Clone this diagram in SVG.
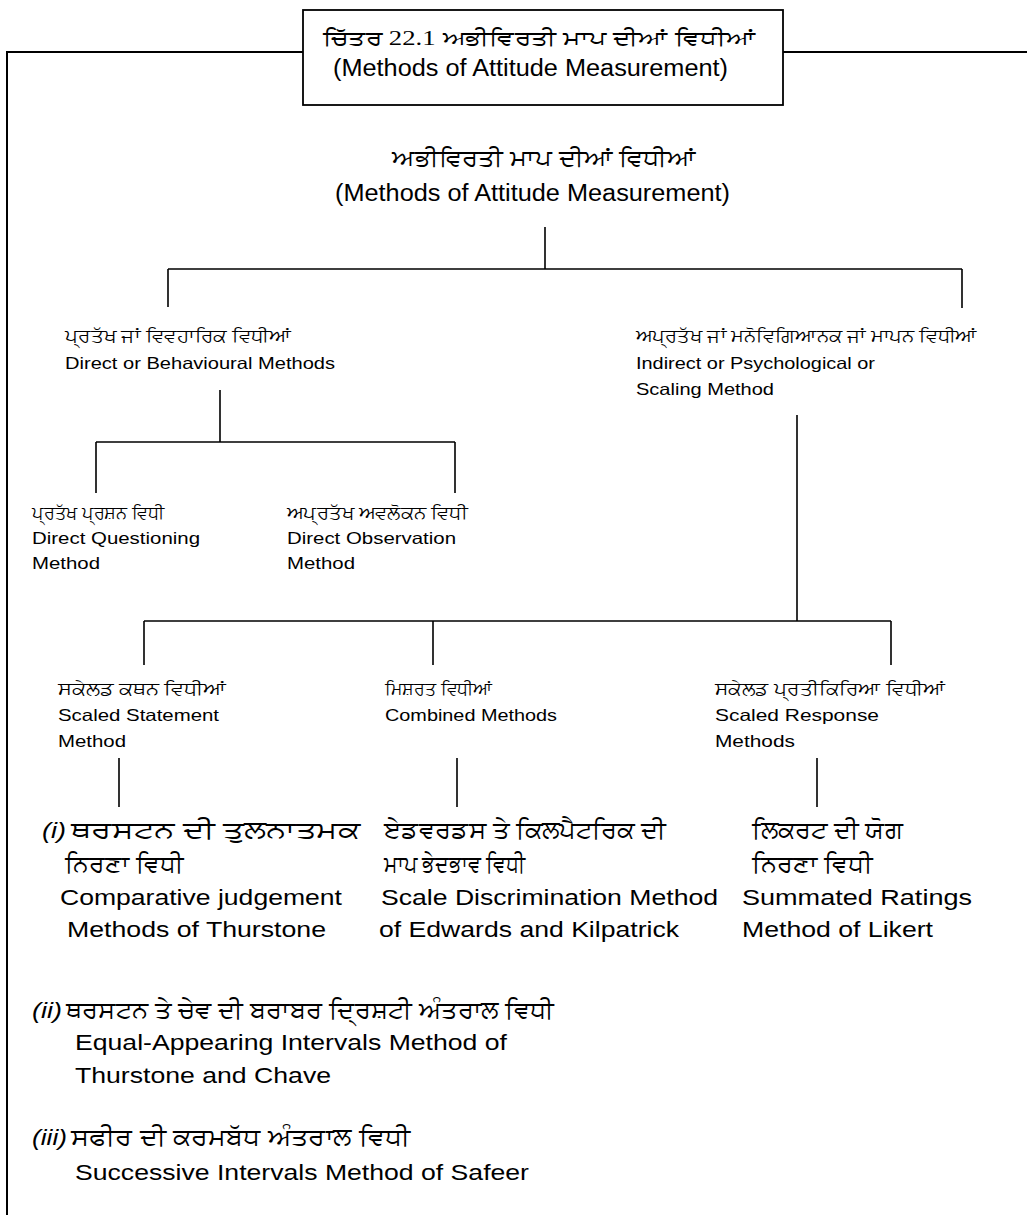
<svg xmlns="http://www.w3.org/2000/svg" width="1027" height="1215" viewBox="0 0 1027 1215">
<style>
.en{font-family:"Liberation Sans",Arial,sans-serif;fill:#000}
.it{font-family:"Liberation Sans",Arial,sans-serif;font-style:italic;fill:#000}
.pa{font-family:"Noto Sans","DejaVu Sans",sans-serif;fill:#000}
.sr{font-family:"Liberation Serif","Times New Roman",serif}
.ln{stroke:#000;stroke-width:1.6;fill:none}
.fr{stroke:#000;stroke-width:2;fill:none}
.h{font-size:23.5px}
.m{font-size:16.5px}
.b{font-size:22px}
</style>
<rect width="1027" height="1215" fill="#fff"/>
<g id="frame">
<path class="fr" d="M7 1215 V52 H303 M783 52 H1027"/>
</g>
<g id="title">
<rect x="303" y="10" width="480" height="95" fill="#fff" stroke="#000" stroke-width="1.8"/>
<text class="pa" x="323" y="45" font-size="20" textLength="432" lengthAdjust="spacingAndGlyphs">ਚਿੱਤਰ <tspan class="sr">22.1</tspan> ਅਭੀਵਿਰਤੀ ਮਾਪ ਦੀਆਂ ਵਿਧੀਆਂ</text>
<text class="en h" x="333" y="76" textLength="395" lengthAdjust="spacingAndGlyphs">(Methods of Attitude Measurement)</text>
</g>
<g id="connectors">
<path class="ln" d="M545 227 V269 M168 269 H962 M168 269 V307 M962 269 V308"/>
<path class="ln" d="M220 390 V442 M96 442 H455 M96 442 V493 M455 442 V493"/>
<path class="ln" d="M797 415 V621 M144 621 H891 M144 621 V665 M433 621 V665 M891 621 V665"/>
<path class="ln" d="M119 758 V807 M457 758 V807 M817 758 V807"/>
</g>
<g id="root">
<text class="pa" x="392" y="166" font-size="23" textLength="303" lengthAdjust="spacingAndGlyphs">ਅਭੀਵਿਰਤੀ ਮਾਪ ਦੀਆਂ ਵਿਧੀਆਂ</text>
<text class="en h" x="335" y="201" textLength="395" lengthAdjust="spacingAndGlyphs">(Methods of Attitude Measurement)</text>
</g>
<g id="direct">
<text class="pa" x="65" y="342" font-size="18" textLength="226" lengthAdjust="spacingAndGlyphs">ਪ੍ਰਤੱਖ ਜਾਂ ਵਿਵਹਾਰਿਕ ਵਿਧੀਆਂ</text>
<text class="en m" x="65" y="369" textLength="270" lengthAdjust="spacingAndGlyphs">Direct or Behavioural Methods</text>
</g>
<g id="indirect">
<text class="pa" x="636" y="342" font-size="18" textLength="341" lengthAdjust="spacingAndGlyphs">ਅਪ੍ਰਤੱਖ ਜਾਂ ਮਨੋਵਿਗਿਆਨਕ ਜਾਂ ਮਾਪਨ ਵਿਧੀਆਂ</text>
<text class="en m" x="636" y="369" textLength="239" lengthAdjust="spacingAndGlyphs">Indirect or Psychological or</text>
<text class="en m" x="636" y="395" textLength="138" lengthAdjust="spacingAndGlyphs">Scaling Method</text>
</g>
<g id="questioning">
<text class="pa" x="32" y="519" font-size="18" textLength="132" lengthAdjust="spacingAndGlyphs">ਪ੍ਰਤੱਖ ਪ੍ਰਸ਼ਨ ਵਿਧੀ</text>
<text class="en m" x="32" y="544" textLength="168" lengthAdjust="spacingAndGlyphs">Direct Questioning</text>
<text class="en m" x="32" y="569" textLength="68" lengthAdjust="spacingAndGlyphs">Method</text>
</g>
<g id="observation">
<text class="pa" x="287" y="519" font-size="18" textLength="180" lengthAdjust="spacingAndGlyphs">ਅਪ੍ਰਤੱਖ ਅਵਲੋਕਨ ਵਿਧੀ</text>
<text class="en m" x="287" y="544" textLength="169" lengthAdjust="spacingAndGlyphs">Direct Observation</text>
<text class="en m" x="287" y="569" textLength="68" lengthAdjust="spacingAndGlyphs">Method</text>
</g>
<g id="scaled-statement">
<text class="pa" x="58" y="695" font-size="18" textLength="168" lengthAdjust="spacingAndGlyphs">ਸਕੇਲਡ ਕਥਨ ਵਿਧੀਆਂ</text>
<text class="en m" x="58" y="721" textLength="161" lengthAdjust="spacingAndGlyphs">Scaled Statement</text>
<text class="en m" x="58" y="747" textLength="68" lengthAdjust="spacingAndGlyphs">Method</text>
</g>
<g id="combined">
<text class="pa" x="385" y="695" font-size="18" textLength="107" lengthAdjust="spacingAndGlyphs">ਮਿਸ਼ਰਤ ਵਿਧੀਆਂ</text>
<text class="en m" x="385" y="721" textLength="172" lengthAdjust="spacingAndGlyphs">Combined Methods</text>
</g>
<g id="scaled-response">
<text class="pa" x="715" y="695" font-size="18" textLength="230" lengthAdjust="spacingAndGlyphs">ਸਕੇਲਡ ਪ੍ਰਤੀਕਿਰਿਆ ਵਿਧੀਆਂ</text>
<text class="en m" x="715" y="721" textLength="164" lengthAdjust="spacingAndGlyphs">Scaled Response</text>
<text class="en m" x="715" y="747" textLength="80" lengthAdjust="spacingAndGlyphs">Methods</text>
</g>
<g id="thurstone">
<text class="it b" x="42" y="838" textLength="24" lengthAdjust="spacingAndGlyphs">(i)</text>
<text class="pa" x="71" y="838" font-size="24" textLength="289" lengthAdjust="spacingAndGlyphs">ਥਰਸਟਨ ਦੀ ਤੁਲਨਾਤਮਕ</text>
<text class="pa" x="65" y="872" font-size="24" textLength="118" lengthAdjust="spacingAndGlyphs">ਨਿਰਣਾ ਵਿਧੀ</text>
<text class="en b" x="60" y="905" textLength="282" lengthAdjust="spacingAndGlyphs">Comparative judgement</text>
<text class="en b" x="67" y="937" textLength="259" lengthAdjust="spacingAndGlyphs">Methods of Thurstone</text>
</g>
<g id="edwards">
<text class="pa" x="384" y="838" font-size="24" textLength="282" lengthAdjust="spacingAndGlyphs">ਏਡਵਰਡਸ ਤੇ ਕਿਲਪੈਟਰਿਕ ਦੀ</text>
<text class="pa" x="384" y="872" font-size="24" textLength="141" lengthAdjust="spacingAndGlyphs">ਮਾਪ ਭੇਦਭਾਵ ਵਿਧੀ</text>
<text class="en b" x="381" y="905" textLength="337" lengthAdjust="spacingAndGlyphs">Scale Discrimination Method</text>
<text class="en b" x="379" y="937" textLength="300" lengthAdjust="spacingAndGlyphs">of Edwards and Kilpatrick</text>
</g>
<g id="likert">
<text class="pa" x="752" y="838" font-size="24" textLength="151" lengthAdjust="spacingAndGlyphs">ਲਿਕਰਟ ਦੀ ਯੋਗ</text>
<text class="pa" x="752" y="872" font-size="24" textLength="120" lengthAdjust="spacingAndGlyphs">ਨਿਰਣਾ ਵਿਧੀ</text>
<text class="en b" x="742" y="905" textLength="230" lengthAdjust="spacingAndGlyphs">Summated Ratings</text>
<text class="en b" x="742" y="937" textLength="191" lengthAdjust="spacingAndGlyphs">Method of Likert</text>
</g>
<g id="equal-appearing">
<text class="it b" x="32" y="1018" textLength="30" lengthAdjust="spacingAndGlyphs">(ii)</text>
<text class="pa" x="66" y="1018" font-size="24" textLength="488" lengthAdjust="spacingAndGlyphs">ਥਰਸਟਨ ਤੇ ਚੇਵ ਦੀ ਬਰਾਬਰ ਦ੍ਰਿਸ਼ਟੀ ਅੰਤਰਾਲ ਵਿਧੀ</text>
<text class="en b" x="75" y="1050" textLength="432" lengthAdjust="spacingAndGlyphs">Equal-Appearing Intervals Method of</text>
<text class="en b" x="75" y="1083" textLength="256" lengthAdjust="spacingAndGlyphs">Thurstone and Chave</text>
</g>
<g id="successive">
<text class="it b" x="32" y="1145" textLength="35" lengthAdjust="spacingAndGlyphs">(iii)</text>
<text class="pa" x="71" y="1145" font-size="24" textLength="339" lengthAdjust="spacingAndGlyphs">ਸਫੀਰ ਦੀ ਕਰਮਬੱਧ ਅੰਤਰਾਲ ਵਿਧੀ</text>
<text class="en b" x="75" y="1180" textLength="454" lengthAdjust="spacingAndGlyphs">Successive Intervals Method of Safeer</text>
</g>
</svg>
